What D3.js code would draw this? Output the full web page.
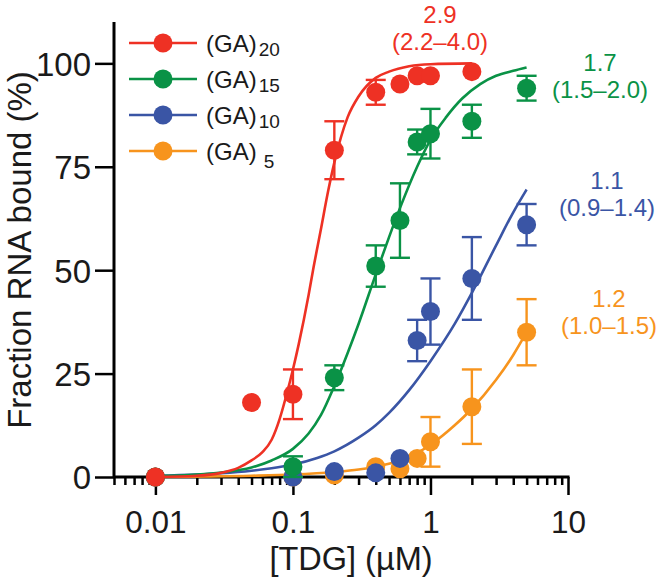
<!DOCTYPE html>
<html><head><meta charset="utf-8">
<script src="https://cdn.jsdelivr.net/npm/d3@7"></script>
<style>
html,body{margin:0;padding:0;background:#fff;}
svg text{font-family:Arial,"Liberation Sans",Helvetica,sans-serif;}
</style></head>
<body><svg id="c" width="664" height="578"></svg>
<script>
// ---- data ----
const seriesNames = ["(GA)20", "(GA)15", "(GA)10", "(GA)5"];
const legendMain = ["(GA)", "(GA)", "(GA)", "(GA)"];
const legendSub = ["20", "15", "10", "5"];
const colors = ["#ee3124", "#0a9246", "#3a55a5", "#f7941d"];
const hillN = ["2.9", "1.7", "1.1", "1.2"];
const hillCI = ["(2.2–4.0)", "(1.5–2.0)", "(0.9–1.4)", "(1.0–1.5)"];

const ga20Conc = [0.01, 0.05, 0.1, 0.2, 0.4, 0.6, 0.8, 1, 2];
const ga20Bound = [0, 18, 20, 79, 93, 95, 97, 97, 98];
const ga20Err = [0, 0, 6, 7, 3, 0, 0, 0, 0];

const ga15Conc = [0.01, 0.1, 0.2, 0.4, 0.6, 0.8, 1, 2, 5];
const ga15Bound = [0, 2.5, 24, 51, 62, 81, 83, 86, 94];
const ga15Err = [0, 2.5, 3, 5, 9, 3, 6, 4, 3];

const ga10Conc = [0.01, 0.1, 0.2, 0.4, 0.6, 0.8, 1, 2, 5];
const ga10Bound = [0, 0, 1.3, 1, 4.5, 33, 40, 48, 61];
const ga10Err = [0, 0, 0, 0, 0, 5, 8, 10, 5];

const ga5Conc = [0.01, 0.1, 0.2, 0.4, 0.6, 0.8, 1, 2, 5];
const ga5Bound = [0, 0, 0.5, 2.5, 2, 4.5, 8.5, 17, 35];
const ga5Err = [0, 0, 0, 0, 0, 0, 6, 9, 8];

// fitted curves
const fit20Conc = [0.01, 0.02, 0.03, 0.04, 0.05, 0.06, 0.07, 0.08, 0.09, 0.1, 0.11, 0.12, 0.13, 0.14, 0.16, 0.18, 0.2, 0.25, 0.3, 0.4, 0.5, 0.7, 1, 2];
const fit20Bound = [0, 0.3, 1, 2.2, 4, 6, 9, 14, 20, 26, 32, 38, 44, 50, 60, 69, 76, 87, 92, 96.5, 98, 99.3, 99.8, 100];
const fit15Conc = [0.01, 0.02, 0.03, 0.05, 0.07, 0.1, 0.13, 0.16, 0.2, 0.25, 0.3, 0.4, 0.5, 0.6, 0.8, 1, 1.3, 1.7, 2.3, 3, 4, 5];
const fit15Bound = [0.2, 0.6, 1.1, 2.3, 4, 6.8, 10.5, 15, 22, 30, 37, 49, 58, 65, 75, 81.5, 87, 91.5, 95, 97, 98.2, 99];
const fit10Conc = [0.01, 0.02, 0.03, 0.05, 0.07, 0.1, 0.15, 0.2, 0.3, 0.4, 0.5, 0.7, 1, 1.5, 2, 3, 4, 5];
const fit10Bound = [0.3, 0.6, 0.9, 1.5, 2.1, 3, 4.6, 6.2, 9.5, 12.5, 15.5, 21, 28, 37, 44.5, 56, 64, 69.5];
const fit5Conc = [0.01, 0.05, 0.1, 0.2, 0.3, 0.4, 0.6, 0.8, 1, 1.5, 2, 3, 4, 5];
const fit5Bound = [0, 0.3, 0.6, 1.2, 1.8, 2.5, 4, 5.8, 7.8, 12.5, 16.5, 23.5, 29.5, 35];

const yTicks = [0, 25, 50, 75, 100];
const xMajor = [0.01, 0.1, 1, 10];
const xMajorLabels = ["0.01", "0.1", "1", "10"];
const xTitle = "[TDG] (µM)";
const yTitle = "Fraction RNA bound (%)";

// ---- build ----
const series = [
  {conc: ga20Conc, bound: ga20Bound, err: ga20Err, fx: fit20Conc, fy: fit20Bound},
  {conc: ga15Conc, bound: ga15Bound, err: ga15Err, fx: fit15Conc, fy: fit15Bound},
  {conc: ga10Conc, bound: ga10Bound, err: ga10Err, fx: fit10Conc, fy: fit10Bound},
  {conc: ga5Conc, bound: ga5Bound, err: ga5Err, fx: fit5Conc, fy: fit5Bound}
];

const svg = d3.select("#c");
const x = d3.scaleLog().domain([0.005, 10]).range([114, 568]);
const y = d3.scaleLinear().domain([0, 110]).range([477, 22]);

// minor + major ticks
const allTicks = [0.005, 0.006, 0.007, 0.008, 0.009];
[0.01, 0.1, 1].forEach(d => { for (let k = 1; k <= 9; k++) allTicks.push(+(d * k).toPrecision(3)); });
allTicks.push(10);

const gx = svg.append("g").attr("transform", "translate(0,477)")
  .call(d3.axisBottom(x).tickValues(allTicks).tickSize(8).tickSizeOuter(0)
    .tickFormat(d => { const i = xMajor.findIndex(m => Math.abs(m - d) < 1e-9); return i >= 0 ? xMajorLabels[i] : ""; }));
gx.select(".domain").attr("stroke", "#000").attr("stroke-width", 3).attr("d", `M${x(0.005)},0H${x(10)+1.5}`);
gx.selectAll(".tick line").attr("stroke", "#000").attr("stroke-width", 2.5)
  .attr("y2", d => xMajor.some(m => Math.abs(m - d) < 1e-9) ? 18 : 8);
gx.selectAll(".tick text").attr("y", 56).attr("dy", 0).attr("font-size", 31.5).attr("fill", "#1a1a1a");

const gy = svg.append("g").attr("transform", "translate(114,0)")
  .call(d3.axisLeft(y).tickValues(yTicks).tickSize(19).tickSizeOuter(0).tickFormat(d3.format("d")));
gy.select(".domain").attr("stroke", "#000").attr("stroke-width", 3).attr("d", `M0,${y(110)}V${y(0)}`);
gy.selectAll(".tick line").attr("stroke", "#000").attr("stroke-width", 2.5);
gy.selectAll(".tick text").attr("x", -23).attr("dy", "0.36em").attr("font-size", 33).attr("fill", "#1a1a1a");

svg.append("text").attr("x", 351).attr("y", 570).attr("text-anchor", "middle")
  .attr("font-size", 32.5).attr("fill", "#1a1a1a").text(xTitle);
svg.append("text").attr("transform", "translate(31,250) rotate(-90)").attr("text-anchor", "middle")
  .attr("font-size", 33).attr("fill", "#1a1a1a").text(yTitle);

const line = d3.line().x(d => x(d[0])).y(d => y(d[1])).curve(d3.curveMonotoneX);
const R = 9.5;

// draw order: (GA)5, (GA)10, (GA)15, (GA)20
[3, 2, 1, 0].forEach(i => {
  const s = series[i], col = colors[i];
  const g = svg.append("g");
  g.append("path").datum(s.fx.map((c, j) => [c, s.fy[j]]))
    .attr("d", line).attr("fill", "none").attr("stroke", col).attr("stroke-width", 2.6);
  const pts = s.conc.map((c, j) => ({c, v: s.bound[j], e: s.err[j]}));
  const eb = g.selectAll(".eb").data(pts.filter(p => p.e > 0)).enter().append("g");
  eb.append("line").attr("x1", p => x(p.c)).attr("x2", p => x(p.c))
    .attr("y1", p => y(p.v + p.e)).attr("y2", p => y(p.v - p.e)).attr("stroke", col).attr("stroke-width", 2.4);
  eb.append("line").attr("x1", p => x(p.c) - 10).attr("x2", p => x(p.c) + 10)
    .attr("y1", p => y(p.v + p.e)).attr("y2", p => y(p.v + p.e)).attr("stroke", col).attr("stroke-width", 2.4);
  eb.append("line").attr("x1", p => x(p.c) - 10).attr("x2", p => x(p.c) + 10)
    .attr("y1", p => y(Math.max(0, p.v - p.e))).attr("y2", p => y(Math.max(0, p.v - p.e))).attr("stroke", col).attr("stroke-width", 2.4);
  g.selectAll("circle").data(pts).enter().append("circle")
    .attr("cx", p => x(p.c)).attr("cy", p => y(p.v)).attr("r", R).attr("fill", col);
});

// legend
const legY = [43, 79, 115, 151];
const subDx = [2, 2, 2, 7];
const subDy = [4, 4, 4, 8];
seriesNames.forEach((n, i) => {
  const g = svg.append("g");
  g.append("line").attr("x1", 129).attr("x2", 197).attr("y1", legY[i]).attr("y2", legY[i])
    .attr("stroke", colors[i]).attr("stroke-width", 2.6);
  g.append("circle").attr("cx", 163).attr("cy", legY[i]).attr("r", R).attr("fill", colors[i]);
  const t = g.append("text").attr("x", 206).attr("y", legY[i] + 9).attr("font-size", 24).attr("fill", "#1a1a1a");
  t.append("tspan").text(legendMain[i]);
  t.append("tspan").attr("dx", subDx[i]).attr("dy", subDy[i]).attr("font-size", 19).text(legendSub[i]);
});

// Hill coefficient annotations
const annX = [440, 600, 607, 609];
const annY = [23, 71, 189, 307];
hillN.forEach((h, i) => {
  svg.append("text").attr("x", annX[i]).attr("y", annY[i]).attr("text-anchor", "middle")
    .attr("font-size", 24).attr("fill", colors[i]).text(h);
  svg.append("text").attr("x", annX[i]).attr("y", annY[i] + 27).attr("text-anchor", "middle")
    .attr("font-size", 24).attr("fill", colors[i]).text(hillCI[i]);
});
</script></body></html>
